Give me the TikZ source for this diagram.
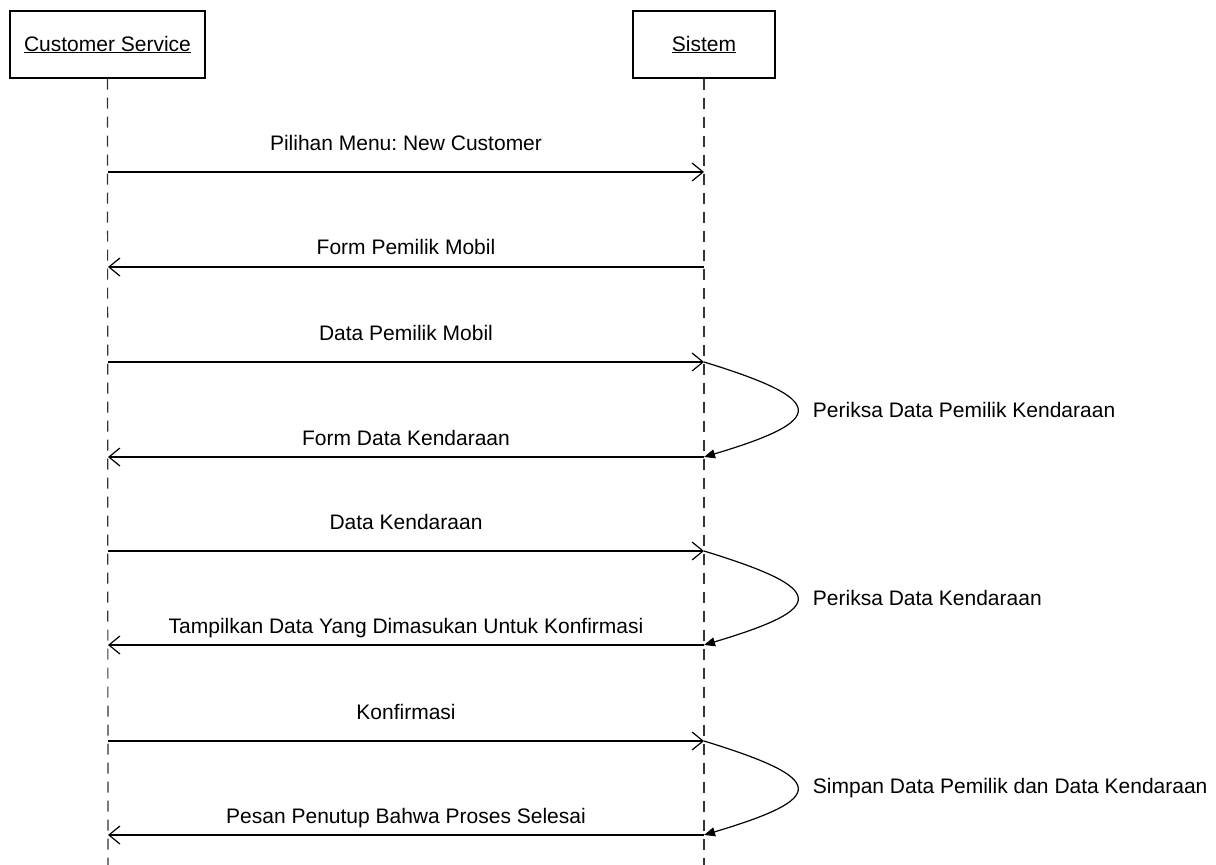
\documentclass[tikz,border=0pt]{standalone}
\usepackage{fontspec}
\setmainfont{Liberation Sans}
\usetikzlibrary{arrows.meta}
\frenchspacing

\tikzset{
  actor/.style={draw, line width=1.4pt, minimum width=195pt, minimum height=67pt, inner sep=0pt},
  lifeline/.style={draw=black!80, line width=1.2pt, dash pattern=on 11pt off 8pt},
  msg/.style={line width=1.2pt, -{Straight Barb[length=11pt,width=18pt]}},
  selfmsg/.style={line width=1.2pt, -{Triangle[length=11pt,width=9pt]}},
  lbl/.style={anchor=base, inner sep=0pt}
}

\begin{document}
\begin{tikzpicture}[x=1pt,y=-1pt,font=\fontsize{21}{24}\selectfont]

      \useasboundingbox (0,0) rectangle (1216,865);

      \node[actor] (cs) at (107.5,44.5) {\underline{Customer Service}};
      \node[actor,minimum width=142pt] (sis) at (704,44.5) {\underline{Sistem}};

      \coordinate (csend) at (108,865);
      \coordinate (sisend) at (704,865);
      \draw[lifeline] (cs.south) -- (csend); % lifeline customer service
      \draw[lifeline] (sis.south) -- (sisend); % lifeline sistem

      \foreach \i/\y in {1/172,2/267,3/362,4/457,5/551,6/645,7/741,8/835}
      {
        \coordinate (cs\i) at (108,\y);
        \coordinate (sis\i) at (704,\y);
      }

      \draw[msg] (cs1) -- (sis1) node[lbl,midway,yshift=22pt] {Pilihan Menu: New Customer};
      \draw[msg] (sis2) -- (cs2) node[lbl,midway,yshift=13pt] {Form Pemilik Mobil};
      \draw[msg] (cs3) -- (sis3) node[lbl,midway,yshift=22pt] {Data Pemilik Mobil};
      \draw[msg] (sis4) -- (cs4) node[lbl,midway,yshift=12pt] {Form Data Kendaraan};
      \draw[msg] (cs5) -- (sis5) node[lbl,midway,yshift=22pt] {Data Kendaraan};
      \draw[msg] (sis6) -- (cs6) node[lbl,midway,yshift=12pt] {Tampilkan Data Yang Dimasukan Untuk Konfirmasi};
      \draw[msg] (cs7) -- (sis7) node[lbl,midway,yshift=22pt] {Konfirmasi};
      \draw[msg] (sis8) -- (cs8) node[lbl,midway,yshift=12pt] {Pesan Penutup Bahwa Proses Selesai};

      % self messages
      \draw[selfmsg] (sis3) .. controls +(124,38) and +(124,-37) .. (sis4)
        node[pos=0.5,right=12pt] {Periksa Data Pemilik Kendaraan};
      \draw[selfmsg] (sis5) .. controls +(124,38) and +(124,-37) .. (sis6)
        node[pos=0.5,right=12pt] {Periksa Data Kendaraan};
      \draw[selfmsg] (sis7) .. controls +(124,38) and +(124,-37) .. (sis8)
        node[pos=0.5,right=12pt] {Simpan Data Pemilik dan Data Kendaraan};

\end{tikzpicture}
\end{document}
